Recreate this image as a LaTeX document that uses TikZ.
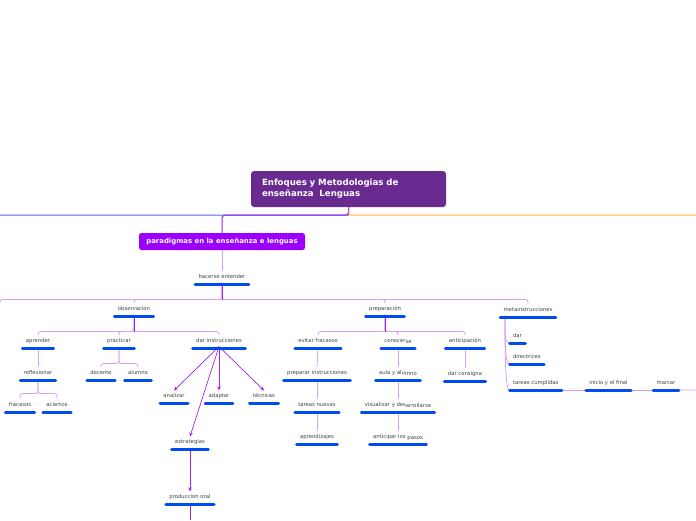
\documentclass[tikz,border=0pt]{standalone}
\usepackage{fontspec}
\setmainfont{DejaVu Sans}
\usetikzlibrary{arrows.meta, positioning, calc}
\definecolor{cTitle}{RGB}{106,43,145}
\definecolor{cPara}{RGB}{155,0,255}
\definecolor{cBar}{RGB}{0,76,240}
\definecolor{cLila}{RGB}{215,160,245}
\definecolor{cViolet}{RGB}{160,32,240}
\definecolor{cBlue}{RGB}{80,100,240}
\definecolor{cOrange}{RGB}{255,176,64}
\definecolor{cStem}{RGB}{180,100,140}
\newcommand{\lowpart}[1]{\raisebox{-0.9pt}{#1}}
\tikzset{
	title/.style ={rectangle, rounded corners=3pt, fill=cTitle, text=white, align=left, text width=173pt, inner xsep=11pt, minimum height=36pt, font=\bfseries\fontsize{8.6}{11}\selectfont},
	para/.style  ={rectangle, rounded corners=2.5pt, fill=cPara, text=white, minimum width=166pt, minimum height=17pt, font=\bfseries\fontsize{6.9}{7.5}\selectfont},
	topic/.style ={inner xsep=3.3pt, inner ysep=2.8pt, text height=3.9pt, text depth=1.2pt, text=black!75, font=\fontsize{5.3}{5.5}\selectfont},
	bar/.style   ={draw=cBar, line width=3pt, line cap=round},
	branch/.style={draw=cLila, line width=0.8pt, rounded corners=2.5pt},
	stem/.style  ={draw=cViolet, line width=1pt},
	arr/.style   ={-{Stealth[length=4pt, width=3.6pt]}, draw=cViolet, line width=0.7pt},
}
\begin{document}
\begin{tikzpicture}[x=1pt, y=-1pt]
	\useasboundingbox (0,0) rectangle (696,520);
	% central topic
	\node[title] (tit) at (348.5,189) {Enfoques y Metodologias de\\enseñanza\ \ Lenguas};
	\node[para] (par) at (222,241.5) {paradigmas en la enseñanza e lenguas};
	\coordinate (offw) at (0,215);
	\coordinate (offe) at (696,215);
	\draw[draw=cBlue, line width=1pt] (tit.south) -- ++(0,8) -- (offw);
	\draw[draw=cOrange, line width=1pt] (tit.south) -- ++(0,8) -- (offe);
	\draw[stem, rounded corners=3pt] (tit.south) -- ++(0,8) -| (par.north);
	\draw[draw=cStem, line width=1pt] (tit.south) -- ++(0,8);
	% topics
	\node[topic] (hac) at (222,277) {hacerse entender};
	\node[topic] (obs) at (134,309) {observacion};
	\node[topic] (pre) at (385,309) {preparación};
	\node[topic] (meta) at (528,310) {metainstrucciones};
	\node[topic] (apr) at (38,341) {aprender};
	\node[topic] (pra) at (119,341) {practicar};
	\node[topic] (dar) at (219,341) {dar instrucciones};
	\node[topic] (ref) at (38,373) {reflexionar};
	\node[topic] (fra) at (20,405) {fracasos};
	\node[topic] (aci) at (57,405) {aciertos};
	\node[topic] (doc) at (101,373) {docente};
	\node[topic] (alu) at (138,373) {alumno};
	\node[topic] (ana) at (174,396) {analizar};
	\node[topic] (ada) at (219,396) {adaptar};
	\node[topic] (tec) at (264,396) {técnicas};
	\node[topic] (est) at (190,442) {estrategias};
	\node[topic] (pro) at (190,497) {produccion oral};
	\node[topic] (evi) at (318,341) {evitar fracasos};
	\node[topic] (con) at (398,341) {conocer\lowpart{se}};
	\node[topic] (ant) at (465,341) {anticipación};
	\node[topic] (ppi) at (317,373) {preparar instrucciones};
	\node[topic] (tar) at (317,405) {tareas nuevas};
	\node[topic] (apz) at (317,437) {aprendizajes};
	\node[topic] (aul) at (398,373) {aula y alu\lowpart{mno}};
	\node[topic] (vis) at (398,405) {visualizar y des\lowpart{arrollarse}};
	\node[topic] (anp) at (398,437) {anticipar los\lowpart{ pasos}};
	\node[topic] (dac) at (465,374) {dar consigna};
	\node[topic, anchor=west] (dr) at (509.5,336) {dar};
	\node[topic, anchor=west] (dir) at (509.5,357) {directrices};
	\node[topic, anchor=west] (tc) at (509.5,383) {tareas cumplidas};
	\node[topic] (ini) at (608.5,383) {inicio y el final};
	\node[topic] (mar) at (666,383) {marcar};
	\coordinate (offl) at (0,300);
	\coordinate (offb) at (190,520);
	\coordinate (offr) at (696,390);
	% connectors
	\draw[branch] (par.south) -- (hac.north);
	\foreach \n in {obs,pre,meta,offl} \draw[branch] (hac.south) -- ++(0,17) -| (\n.north);
	\draw[stem] (hac.south) -- ++(0,17);
	\foreach \n in {apr,pra,dar} \draw[branch] (obs.south) -- ++(0,17) -| (\n.north);
	\draw[stem] (obs.south) -- ++(0,17);
	\foreach \n in {evi,con,ant} \draw[branch] (pre.south) -- ++(0,17) -| (\n.north);
	\draw[stem] (pre.south) -- ++(0,17);
	\draw[branch] (apr.south) -- (ref.north);
	\foreach \n in {fra,aci} \draw[branch] (ref.south) -- ++(0,15) -| (\n.north);
	\foreach \n in {doc,alu} \draw[branch] (pra.south) -- ++(0,17) -| (\n.north);
	\foreach \n in {ana,ada,tec,est} \draw[arr] (dar.south) -- (\n.north);
	\draw[arr] (est.south) -- (pro.north);
	\draw[stem, line width=0.7pt] (pro.south) -- (offb);
	\draw[branch] (evi.south) -- (ppi.north);
	\draw[branch] (ppi.south) -- (tar.north);
	\draw[branch] (tar.south) -- (apz.north);
	\draw[branch] (con.south) -- (aul.north);
	\draw[branch] (aul.south) -- (vis.north);
	\draw[branch] (vis.south) -- (anp.north);
	\draw[branch] (ant.south) -- (dac.north);
	\foreach \n in {dr,dir,tc}
		\draw[branch] ([xshift=5pt]meta.south west) .. controls +(0,20) and +(-5,0) .. ([yshift=-1.5pt]\n.south west);
	\draw[branch] ([yshift=-1.5pt]tc.south east) -- ([yshift=-1.5pt]ini.south west);
	\draw[branch] ([yshift=-1.5pt]ini.south east) -- ([yshift=-1.5pt]mar.south west);
	\draw[branch] ([yshift=-1.5pt]mar.south east) -- (offr);
	% underline bars
	\foreach \n in {hac,obs,pre,meta,apr,pra,dar,ref,fra,aci,doc,alu,ana,ada,tec,est,pro,evi,con,ant,ppi,tar,apz,aul,vis,anp,dac,dr,dir,tc,ini,mar}
		\draw[bar] ([yshift=-1.5pt]\n.south west) -- ([yshift=-1.5pt]\n.south east);
\end{tikzpicture}
\end{document}
